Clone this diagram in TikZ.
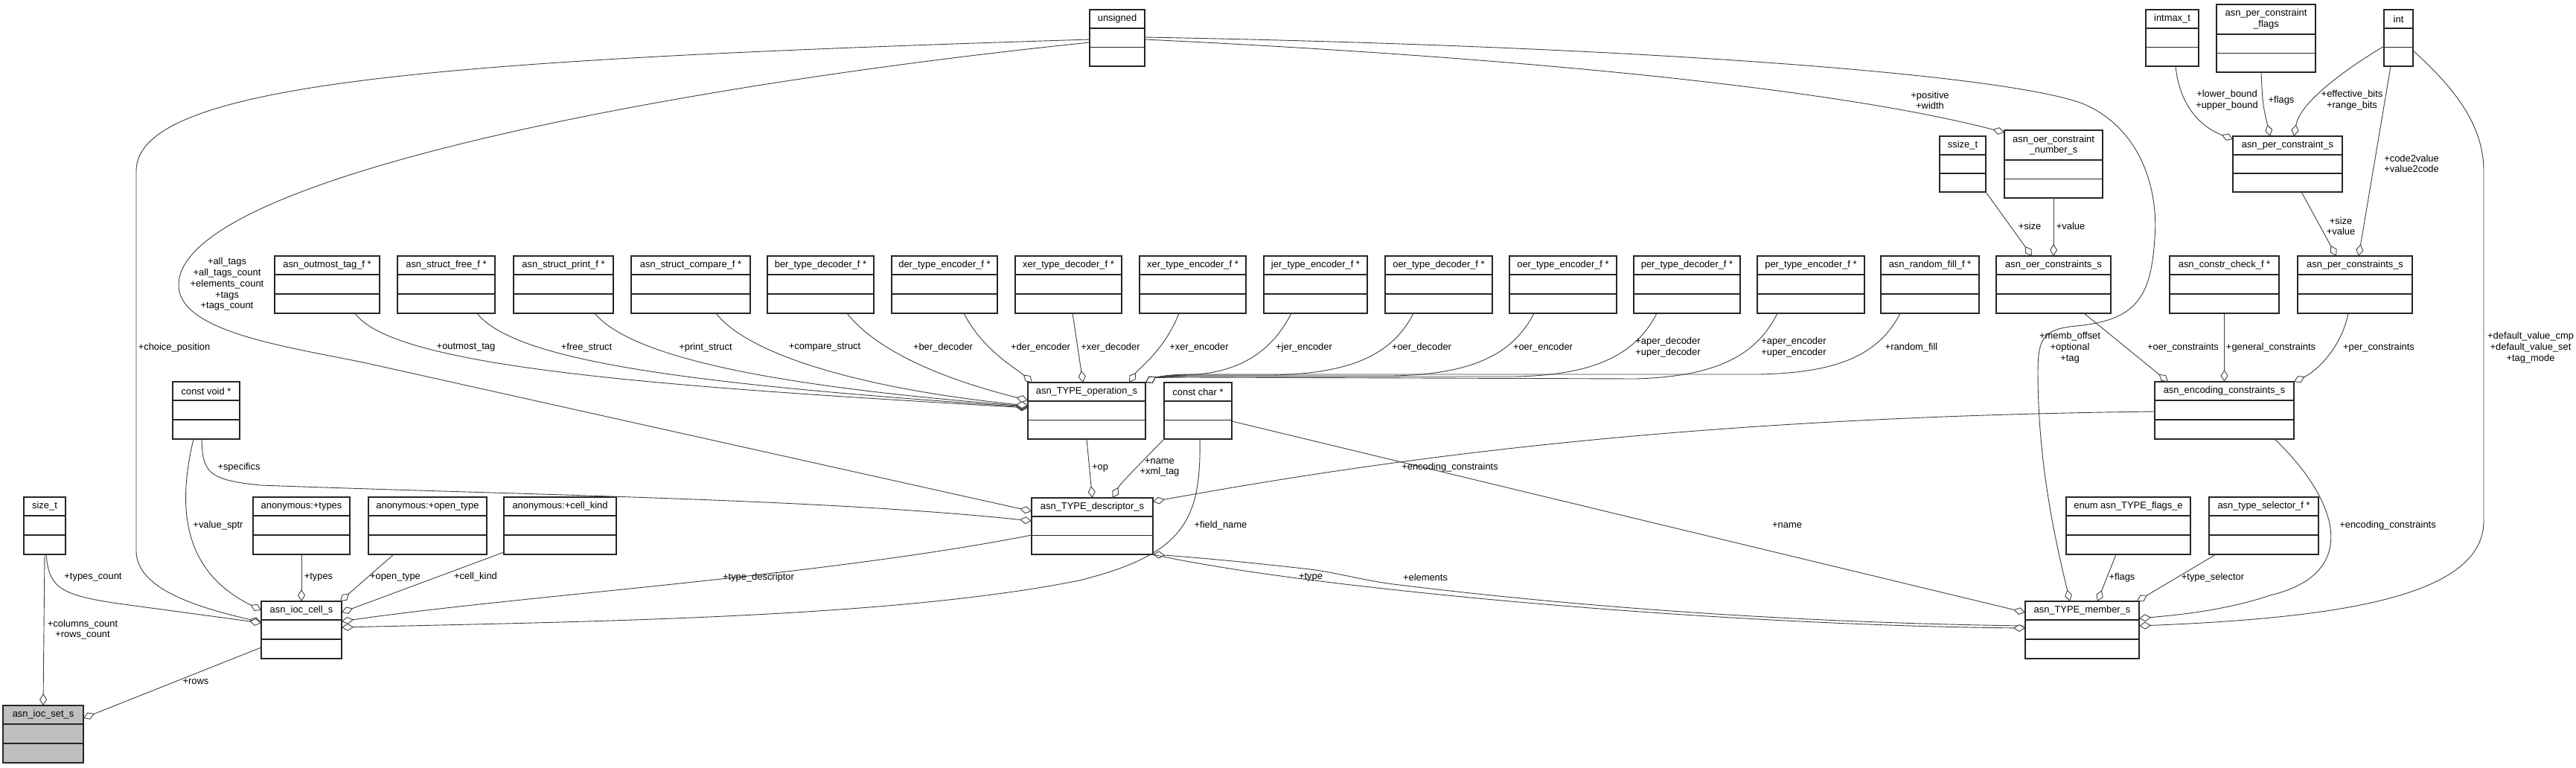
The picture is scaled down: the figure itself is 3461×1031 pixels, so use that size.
\documentclass[tikz,border=0pt]{standalone}
\usepackage{fontspec}
\setmainfont{Liberation Sans}
\usetikzlibrary{calc,arrows.meta}
\newcommand\dfont{\fontsize{12.9pt}{14.7pt}\selectfont}
\tikzset{
  box/.style={draw=black!85, line width=1.2pt, fill=white, inner sep=0pt, outer sep=0pt},
  boxline/.style={draw=black!85, line width=1.2pt},
  ttl/.style={font=\dfont, inner sep=0pt, align=center},
  lab/.style={font=\dfont, inner sep=0pt, align=center},
  edge/.style={draw=black!75, line width=0.9pt, -{Diamond[fill=white, length=16pt, width=10pt]}},
}
% [style]{name}{x1}{y1}{x2}{y2}{header height}{title}
\newcommand\ubox[8][]{%
  \node[box,#1,minimum width={(#5-#3)*1pt},minimum height={(#6-#4)*1pt},anchor=north west] (#2) at (#3,#4) {};
  \draw[boxline] ($(#2.north west)+(0,#7)$) -- ($(#2.north east)+(0,#7)$);
  \draw[boxline] ($(#2.north west)+(0,{(#7+#6-#4)/2})$) -- ($(#2.north east)+(0,{(#7+#6-#4)/2})$);
  \node[ttl] (#2-t) at ($(#2.north)+(0,{#7/2})$) {#8};
}
\begin{document}
\begin{tikzpicture}[x=1pt,y=-1pt]
\fill[white] (0,0) rectangle (3461,1031);
\useasboundingbox (0,0) rectangle (3461,1031);

% ---------- boxes ----------
\ubox{uns}{1464}{13}{1538}{89}{25}{unsigned}
\ubox{imax}{2883}{13}{2954}{89}{25}{intmax\_t}
\ubox{pflags}{2978}{6}{3111}{97}{40}{asn\_per\_constraint\\\_flags}
\ubox{int}{3203}{13}{3242}{89}{25}{int}
\ubox{ssize}{2606}{183}{2668}{258}{25}{ssize\_t}
\ubox{oernum}{2693}{175}{2825}{266}{40}{asn\_oer\_constraint\\\_number\_s}
\ubox{pcs}{3000}{183}{3147}{258}{25}{asn\_per\_constraint\_s}

\ubox{fot}{369}{344}{510}{421}{25}{asn\_outmost\_tag\_f *}
\ubox{ffree}{534}{344}{665}{421}{25}{asn\_struct\_free\_f *}
\ubox{fprint}{690}{344}{824}{421}{25}{asn\_struct\_print\_f *}
\ubox{fcmp}{848}{344}{1008}{421}{25}{asn\_struct\_compare\_f *}
\ubox{fber}{1031}{344}{1174}{421}{25}{ber\_type\_decoder\_f *}
\ubox{fder}{1198}{344}{1340}{421}{25}{der\_type\_encoder\_f *}
\ubox{fxerd}{1364}{344}{1507}{421}{25}{xer\_type\_decoder\_f *}
\ubox{fxere}{1531}{344}{1674}{421}{25}{xer\_type\_encoder\_f *}
\ubox{fjer}{1698}{344}{1837}{421}{25}{jer\_type\_encoder\_f *}
\ubox{foerd}{1861}{344}{2005}{421}{25}{oer\_type\_decoder\_f *}
\ubox{foere}{2028}{344}{2172}{421}{25}{oer\_type\_encoder\_f *}
\ubox{fperd}{2195}{344}{2338}{421}{25}{per\_type\_decoder\_f *}
\ubox{fpere}{2361}{344}{2505}{421}{25}{per\_type\_encoder\_f *}
\ubox{frand}{2527}{344}{2659}{421}{25}{asn\_random\_fill\_f *}
\ubox{oercs}{2682}{344}{2836}{421}{25}{asn\_oer\_constraints\_s}
\ubox{cchk}{2915}{344}{3062}{421}{25}{asn\_constr\_check\_f *}
\ubox{percs}{3087}{344}{3241}{421}{25}{asn\_per\_constraints\_s}

\ubox{cvoid}{232}{513}{322}{590}{25}{const void *}
\ubox{op}{1381}{514}{1539}{590}{25}{asn\_TYPE\_operation\_s}
\ubox{cchar}{1564}{514}{1655}{590}{25}{const char *}
\ubox{enc}{2895}{513}{3082}{590}{25}{asn\_encoding\_constraints\_s}

\ubox{sizet}{32}{668}{88}{745}{25}{size\_t}
\ubox{antypes}{340}{668}{470}{745}{25}{anonymous:+types}
\ubox{anopen}{495}{668}{654}{745}{25}{anonymous:+open\_type}
\ubox{ankind}{677}{668}{828}{745}{25}{anonymous:+cell\_kind}
\ubox{desc}{1386}{669}{1549}{745}{25}{asn\_TYPE\_descriptor\_s}
\ubox{flagse}{2776}{668}{2943}{745}{25}{enum asn\_TYPE\_flags\_e}
\ubox{tsel}{2968}{668}{3115}{745}{25}{asn\_type\_selector\_f *}

\ubox{cell}{351}{808}{459}{885}{25}{asn\_ioc\_cell\_s}
\ubox{member}{2721}{808}{2874}{885}{25}{asn\_TYPE\_member\_s}
\ubox[fill=black!25]{set}{4}{948}{112}{1025}{25}{asn\_ioc\_set\_s}

% ---------- edges ----------
% unsigned
\draw[edge] ($(uns.north west)+(0,40)$) .. controls (600,80) and (183,110) .. (183,230) -- (183,740) .. controls (183,790) and (260,815) .. ($(cell.north west)+(0,28)$);
\draw[edge] ($(uns.north west)+(0,44)$) .. controls (900,115) and (240,240) .. (240,383) .. controls (240,445) and (380,465) .. (488,487) -- ($(desc.north west)+(0,18)$);
\draw[edge] ($(uns.north east)+(0,40)$) .. controls (2000,75) and (2450,115) .. ($(oernum.north west)+(0,3)$);
\draw[edge] ($(uns.north east)+(0,37)$) .. controls (2200,62) and (2700,100) .. (2800,140) .. controls (2880,175) and (2900,260) .. (2895,320) .. controls (2890,400) and (2870,430) .. (2790,438) .. controls (2745,442) and (2738,455) .. (2738,500) .. controls (2738,620) and (2760,720) .. ($(member.north west)+(60,0)$);

% function pointers -> asn_TYPE_operation_s
\draw[edge] ($(fot.south west)+(108,0)$) .. controls (530,495) and (900,520) .. ($(op.north west)+(0,34)$);
\draw[edge] ($(ffree.south west)+(107,0)$) .. controls (690,482) and (900,515) .. ($(op.north west)+(0,33)$);
\draw[edge] ($(fprint.south west)+(109,0)$) .. controls (850,482) and (1050,520) .. ($(op.north west)+(0,32)$);
\draw[edge] ($(fcmp.south west)+(114,0)$) .. controls (1010,482) and (1180,525) .. ($(op.north west)+(0,31)$);
\draw[edge] ($(fber.south west)+(107,0)$) .. controls (1185,480) and (1290,515) .. ($(op.north west)+(0,24)$);
\draw[edge] ($(fder.south west)+(97,0)$) .. controls (1320,470) and (1365,495) .. ($(op.north west)+(6,0)$);
\draw[edge] ($(fxerd.south west)+(77,0)$) -- ($(op.north west)+(74,0)$);
\draw[edge] ($(fxere.south west)+(53,0)$) .. controls (1565,470) and (1530,495) .. ($(op.north west)+(136,0)$);
\draw[edge] ($(fjer.south west)+(37,0)$) .. controls (1700,490) and (1640,503) .. (1590,504) .. controls (1565,505) and (1550,508) .. (op.north east);
\draw[edge] ($(foerd.south west)+(38,0)$) .. controls (1869,480) and (1809,502) .. (1709,504) -- (1600,504) .. controls (1565,504) and (1550,508) .. (op.north east);
\draw[edge] ($(foere.south west)+(33,0)$) .. controls (2031,480) and (1971,503) .. (1871,505) -- (1600,505) .. controls (1565,505) and (1550,508) .. (op.north east);
\draw[edge] ($(fperd.south west)+(31,0)$) .. controls (2196,480) and (2136,504) .. (2036,506) -- (1600,506) .. controls (1565,506) and (1550,508) .. (op.north east);
\draw[edge] ($(fpere.south west)+(27,0)$) .. controls (2358,482) and (2298,506) .. (2198,509) -- (1600,507) .. controls (1565,507) and (1550,508) .. (op.north east);
\draw[edge] ($(frand.south west)+(26,0)$) .. controls (2523,480) and (2463,501) .. (2363,503) -- (1600,503) .. controls (1565,503) and (1550,508) .. (op.north east);

% const char *, op
\draw[edge] (cchar.south west) .. controls (1530,625) and (1505,650) .. ($(desc.north west)+(109,0)$);
\draw[edge] (op.south) -- (desc.north);
\draw[edge] ($(cchar.south west)+(48,0)$) .. controls (1614,700) and (1590,745) .. (1450,780) .. controls (1200,830) and (800,835) .. ($(cell.north east)+(0,35)$);
\draw[edge] ($(cchar.north east)+(0,52)$) -- ($(member.north west)+(0,15)$);

% descriptor -> cell
\draw[edge] ($(desc.north west)+(0,50)$) .. controls (1100,775) and (700,800) .. ($(cell.north east)+(0,27)$);

% anonymous, size_t, const void * -> cell / set
\draw[edge] ($(ankind.south west)+(0,-3)$) -- ($(cell.north east)+(0,15)$);
\draw[edge] ($(anopen.south west)+(34,0)$) -- ($(cell.north east)+(-2,0)$);
\draw[edge] (antypes.south) -- (cell.north);
\draw[edge] ($(sizet.south west)+(30,0)$) .. controls (66,790) and (80,800) .. (166,812) -- ($(cell.north west)+(0,29)$);
\draw[edge] (sizet.south) -- (set.north);
\draw[edge] ($(cell.north west)+(0,62)$) -- ($(set.north east)+(0,17)$);
\draw[edge] ($(cvoid.south west)+(28,0)$) .. controls (236,690) and (250,770) .. ($(cell.north west)+(0,12)$);
\draw[edge] ($(cvoid.south west)+(39,0)$) .. controls (272,635) and (280,645) .. (350,652) .. controls (700,665) and (1100,670) .. ($(desc.north west)+(0,31)$);

% encoding constraints -> descriptor
\draw[edge] ($(enc.north west)+(0,40)$) .. controls (2300,560) and (1900,610) .. ($(desc.north east)+(0,5)$);

% member <-> descriptor
\draw[edge] ($(member.north west)+(0,33)$) .. controls (2500,838) and (2200,825) .. (1880,786) .. controls (1830,780) and (1800,770) .. (1760,765) .. controls (1700,758) and (1620,750) .. (desc.south east);
\draw[edge] (desc.south east) .. controls (1750,790) and (2300,840) .. ($(member.north west)+(0,36)$);

% into member
\draw[edge] ($(enc.south east)+(-26,0)$) .. controls (3140,670) and (3175,770) .. (3050,800) .. controls (2990,820) and (2930,826) .. ($(member.north east)+(0,23)$);
\draw[edge] ($(int.north east)+(0,55)$) .. controls (3300,120) and (3337,170) .. (3337,230) -- (3337,700) .. controls (3337,800) and (3150,830) .. ($(member.north east)+(0,33)$);
\draw[edge] ($(flagse.south west)+(67,0)$) -- ($(member.north west)+(97,0)$);
\draw[edge] ($(tsel.south west)+(9,0)$) -- ($(member.north east)+(-3,0)$);

% into encoding constraints
\draw[edge] ($(oercs.south west)+(118,0)$) -- ($(enc.north west)+(18,0)$);
\draw[edge] (cchk.south) -- (enc.north);
\draw[edge] ($(percs.south west)+(68,0)$) .. controls (3145,470) and (3110,500) .. (enc.north east);

% oer
\draw[edge] (ssize.south east) -- ($(oercs.north west)+(48,0)$);
\draw[edge] (oernum.south) -- (oercs.north);

% per
\draw[edge] ($(pcs.south west)+(92,0)$) -- ($(percs.north west)+(52,0)$);
\draw[edge] ($(int.south west)+(9,0)$) -- ($(percs.north west)+(82,0)$);
\draw[edge] ($(imax.south west)+(40,0)$) .. controls (2928,140) and (2955,170) .. ($(pcs.north west)+(0,4)$);
\draw[edge] ($(pflags.south west)+(60,0)$) .. controls (3040,140) .. ($(pcs.north west)+(50,0)$);
\draw[edge] ($(int.north west)+(0,49)$) .. controls (3140,100) and (3090,140) .. ($(pcs.north west)+(82,0)$);

% ---------- labels ----------
\node[lab] (L1) at (234,467) {+choice\_position};
\node[lab] (L2) at (305,382) {+all\_tags\\+all\_tags\_count\\+elements\_count\\+tags\\+tags\_count};
\node[lab] (L3) at (626,467) {+outmost\_tag};
\node[lab] (L4) at (788,467) {+free\_struct};
\node[lab] (L5) at (948,467) {+print\_struct};
\node[lab] (L6) at (1108,467) {+compare\_struct};
\node[lab] (L7) at (1267,467) {+ber\_decoder};
\node[lab] (L8) at (1398,467) {+der\_encoder};
\node[lab] (L9) at (1492,467) {+xer\_decoder};
\node[lab] (L10) at (1611,467) {+xer\_encoder};
\node[lab] (L11) at (1752,467) {+jer\_encoder};
\node[lab] (L12) at (1910,467) {+oer\_decoder};
\node[lab] (L13) at (2073,467) {+oer\_encoder};
\node[lab] (L14) at (2241,467) {+aper\_decoder\\+uper\_decoder};
\node[lab] (L15) at (2410,467) {+aper\_encoder\\+uper\_encoder};
\node[lab] (L16) at (2568,467) {+random\_fill};
\node[lab] (L17) at (2593,135) {+positive\\+width};
\node[lab] (L18) at (2781,467) {+memb\_offset\\+optional\\+tag};
\node[lab] (L19) at (2933,467) {+oer\_constraints};
\node[lab] (L20) at (3051,467) {+general\_constraints};
\node[lab] (L21) at (3196,467) {+per\_constraints};
\node[lab] (L22) at (3400,467) {+default\_value\_cmp\\+default\_value\_set\\+tag\_mode};
\node[lab] (L23) at (2727,304) {+size};
\node[lab] (L24) at (2782,304) {+value};
\node[lab] (L25) at (3145,304) {+size\\+value};
\node[lab] (L26) at (3240,220) {+code2value\\+value2code};
\node[lab] (L27) at (2992,135) {+lower\_bound\\+upper\_bound};
\node[lab] (L28) at (3065,135) {+flags};
\node[lab] (L29) at (3160,135) {+effective\_bits\\+range\_bits};
\node[lab] (L30) at (321,628) {+specifics};
\node[lab] (L31) at (293,706) {+value\_sptr};
\node[lab] (L32) at (125,776) {+types\_count};
\node[lab] (L33) at (428,776) {+types};
\node[lab] (L34) at (531,776) {+open\_type};
\node[lab] (L35) at (639,775) {+cell\_kind};
\node[lab] (L36) at (111,846) {+columns\_count\\+rows\_count};
\node[lab] (L37) at (263,916) {+rows};
\node[lab] (L38) at (1478,629) {+op};
\node[lab] (L39) at (1558,628) {+name\\+xml\_tag};
\node[lab] (L40) at (1640,706) {+field\_name};
\node[lab] (L41) at (1019,776) {+type\_descriptor};
\node[lab] (L42) at (1948,628) {+encoding\_constraints};
\node[lab] (L43) at (2401,706) {+name};
\node[lab] (L44) at (1761,776) {+type};
\node[lab] (L45) at (1915,776) {+elements};
\node[lab] (L46) at (2851,776) {+flags};
\node[lab] (L47) at (2973,776) {+type\_selector};
\node[lab] (L48) at (3208,706) {+encoding\_constraints};
\end{tikzpicture}
\end{document}
